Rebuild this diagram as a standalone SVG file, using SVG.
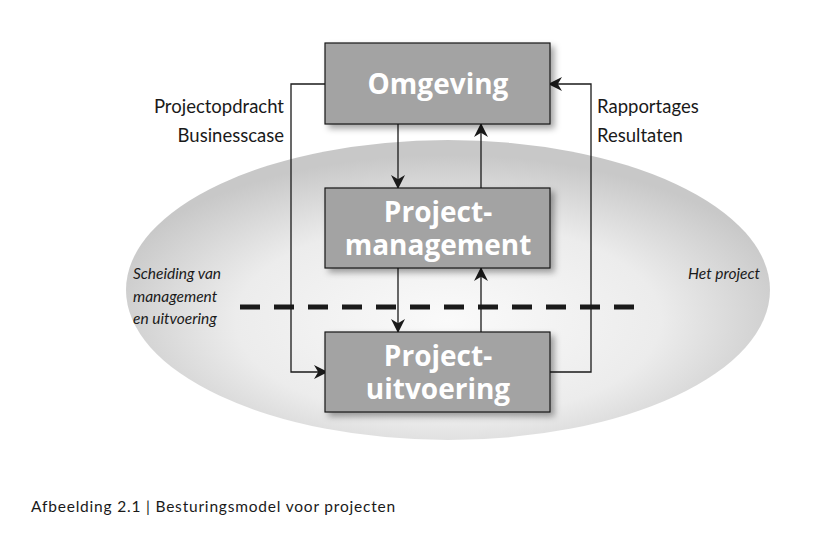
<svg xmlns="http://www.w3.org/2000/svg" width="815" height="547" viewBox="0 0 815 547">
<defs>
<radialGradient id="g" cx="0.5" cy="0.6" r="0.55">
<stop offset="0" stop-color="#fafafa"/><stop offset="0.6" stop-color="#ececec"/><stop offset="1" stop-color="#c8c8c8"/>
</radialGradient>
<filter id="sh" x="-10%" y="-10%" width="130%" height="130%"><feDropShadow dx="4" dy="4" stdDeviation="3" flood-color="#000" flood-opacity="0.35"/></filter>
<marker id="a" viewBox="0 0 10 10" refX="10" refY="5" markerWidth="14" markerHeight="14" markerUnits="userSpaceOnUse" orient="auto"><path d="M0,0 L10,5 L0,10 L3,5 z" fill="#1a1a1a"/></marker>
<style>
.box{fill:#a3a3a3;stroke:#1a1a1a;stroke-width:1.2;filter:url(#sh)}
.bt{font-family:"Open Sans",sans-serif;font-weight:bold;fill:#fff;text-anchor:middle;font-size:28px}
.ln{fill:none;stroke:#1a1a1a;stroke-width:1.3}
.lb{font-family:"Lato",sans-serif;font-size:18.5px;fill:#1a1a1a}
.it{font-family:"Lato",sans-serif;font-style:italic;font-size:15.5px;fill:#1a1a1a}
</style>
</defs>
<rect width="815" height="547" fill="#fff"/>
<ellipse cx="448" cy="290" rx="322" ry="150" fill="url(#g)"/>
<line x1="240" y1="307" x2="640" y2="307" stroke="#1a1a1a" stroke-width="5" stroke-dasharray="20,14"/>
<g id="connectors">
<polyline class="ln" points="325,84 291,84 291,372 328,372" marker-end="url(#a)"/>
<polyline class="ln" points="550,372 591,372 591,84 548,84" marker-end="url(#a)"/>
<line class="ln" x1="398" y1="124" x2="398" y2="189" marker-end="url(#a)"/>
<line class="ln" x1="481" y1="188" x2="481" y2="123" marker-end="url(#a)"/>
<line class="ln" x1="398" y1="268" x2="398" y2="333" marker-end="url(#a)"/>
<line class="ln" x1="481" y1="332" x2="481" y2="267" marker-end="url(#a)"/>
</g>
<g id="omgeving"><rect class="box" x="325" y="43" width="225" height="81"/><text class="bt" x="438" y="94">Omgeving</text></g>
<g id="pm"><rect class="box" x="325" y="188" width="225" height="80"/><text class="bt" x="438" y="222">Project-</text><text class="bt" x="438" y="255">management</text></g>
<g id="pu"><rect class="box" x="325" y="332" width="225" height="80"/><text class="bt" x="438" y="366">Project-</text><text class="bt" x="438" y="399">uitvoering</text></g>
<text class="lb" x="284" y="113" text-anchor="end">Projectopdracht</text>
<text class="lb" x="284" y="142" text-anchor="end">Businesscase</text>
<text class="lb" x="597" y="113">Rapportages</text>
<text class="lb" x="597" y="142">Resultaten</text>
<text class="it" x="133" y="279">Scheiding van</text>
<text class="it" x="133" y="302">management</text>
<text class="it" x="133" y="324">en uitvoering</text>
<text class="it" x="688" y="279">Het project</text>
<text font-family="Lato,sans-serif" font-size="15.5" letter-spacing="0.8" fill="#1a1a1a" x="31" y="512">Afbeelding 2.1  |  Besturingsmodel voor projecten</text>
</svg>
